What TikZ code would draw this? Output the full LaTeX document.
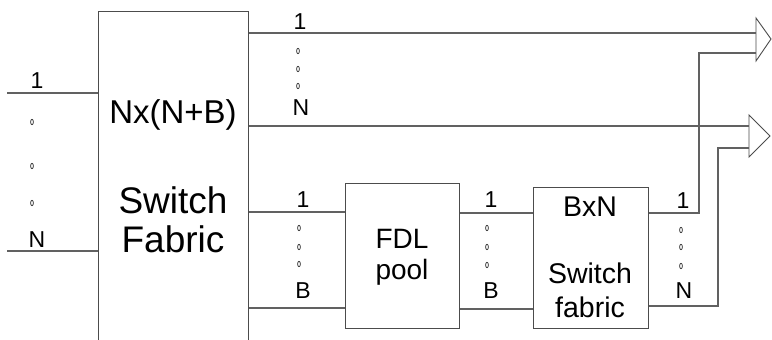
\documentclass[tikz,border=0pt]{standalone}
\usepackage{fontspec}
\setmainfont{Liberation Sans}
\definecolor{wirec}{gray}{0.38}
\definecolor{boxc}{gray}{0.3}
\begin{document}
\begin{tikzpicture}[x=1pt,y=-1pt,
  box/.style={draw=boxc, line width=1pt, rectangle, inner sep=0pt},
  wire/.style={draw=wirec, line width=1.2pt},
  comb/.style={draw=boxc, line width=0.9pt, line join=miter},
  lbl/.style={font=\fontsize{23}{23}\selectfont, inner sep=0pt, anchor=base},
  dotm/.style={draw=black!80, line width=0.75pt},
  bigtxt/.style={inner sep=0pt, anchor=base, align=center}]
\useasboundingbox (0,0) rectangle (772,340);
\clip (0,0) rectangle (772,340);
\fill[white] (0,0) rectangle (772,340);

% boxes
\node[box, minimum width=150pt, minimum height=345pt, anchor=north west] (sf) at (98,11) {};
\node[box, minimum width=114pt, minimum height=145pt, anchor=north west] (fdl) at (345,183) {};
\node[box, minimum width=115pt, minimum height=141pt, anchor=north west] (bxn) at (533,187) {};

% box texts (base anchor = baseline of the last line)
\node[bigtxt, font=\fontsize{33}{33}\selectfont] (sft1) at (173,123) {Nx(N+B)};
\node[bigtxt, font=\fontsize{37}{39}\selectfont] (sft2) at (173,252) {Switch\\Fabric};
\node[bigtxt, font=\fontsize{28}{31}\selectfont] (fdlt) at (402,279) {FDL\\pool};
\node[bigtxt, font=\fontsize{28.5}{34}\selectfont] (bxt) at (590,317) {BxN\\[33pt]Switch\\fabric};

% combiners (open triangles)
\coordinate (t1a) at (756,33);
\coordinate (t1b) at (756,53);
\coordinate (t2a) at (749,126);
\coordinate (t2b) at (749,148);
\draw[comb] (756,18) -- (771,39) -- (756,61) -- cycle;
\draw[comb] (749,115) -- (770,136) -- (749,157) -- cycle;

% input lines
\coordinate (in1) at (7,93);
\coordinate (inN) at (7,251);
\draw[wire] (in1) -- (sf.west |- in1);
\draw[wire] (inN) -- (sf.west |- inN);

% outputs of the big switch
\draw[wire] (sf.east |- t1a) -- (t1a);
\draw[wire] (sf.east |- t2a) -- (t2a);
\coordinate (yb1) at (0,212);
\coordinate (ybB) at (0,308);
\draw[wire] (sf.east |- yb1) -- (fdl.west |- yb1);
\draw[wire] (sf.east |- ybB) -- (fdl.west |- ybB);

% FDL to BxN
\coordinate (yc1) at (0,213);
\coordinate (ycB) at (0,309);
\draw[wire] (fdl.east |- yc1) -- (bxn.west |- yc1);
\draw[wire] (fdl.east |- ycB) -- (bxn.west |- ycB);

% BxN outputs to combiners
\coordinate (yd1) at (0,213);
\coordinate (ydN) at (0,306);
\draw[wire, line join=miter] (bxn.east |- yd1) -- (699,213) -- (699,53) -- (t1b);
\draw[wire, line join=miter] (bxn.east |- ydN) -- (718,306) -- (718,148) -- (t2b);

% labels
\node[lbl] (l1) at (37,88) {1};
\node[lbl] (lN) at (37,247) {N};
\node[lbl] (o1) at (300,30) {1};
\node[lbl] (oN) at (301,115) {N};
\node[lbl] (b1) at (303,207) {1};
\node[lbl] (bB) at (303,298) {B};
\node[lbl] (c1) at (491,207) {1};
\node[lbl] (cB) at (491,298) {B};
\node[lbl] (d1) at (683,208) {1};
\node[lbl] (dN) at (684,298) {N};

% small dots
\foreach \x/\y in {32/122, 32/166, 32/203,
                   298/51, 298/69, 298/86,
                   299/228, 299/247, 299/264,
                   487/228, 487/247, 487/265,
                   681/230, 681/247, 681/266}
  \draw[dotm] (\x,\y) ellipse [x radius=1.4pt, y radius=2.7pt];
\end{tikzpicture}
\end{document}
